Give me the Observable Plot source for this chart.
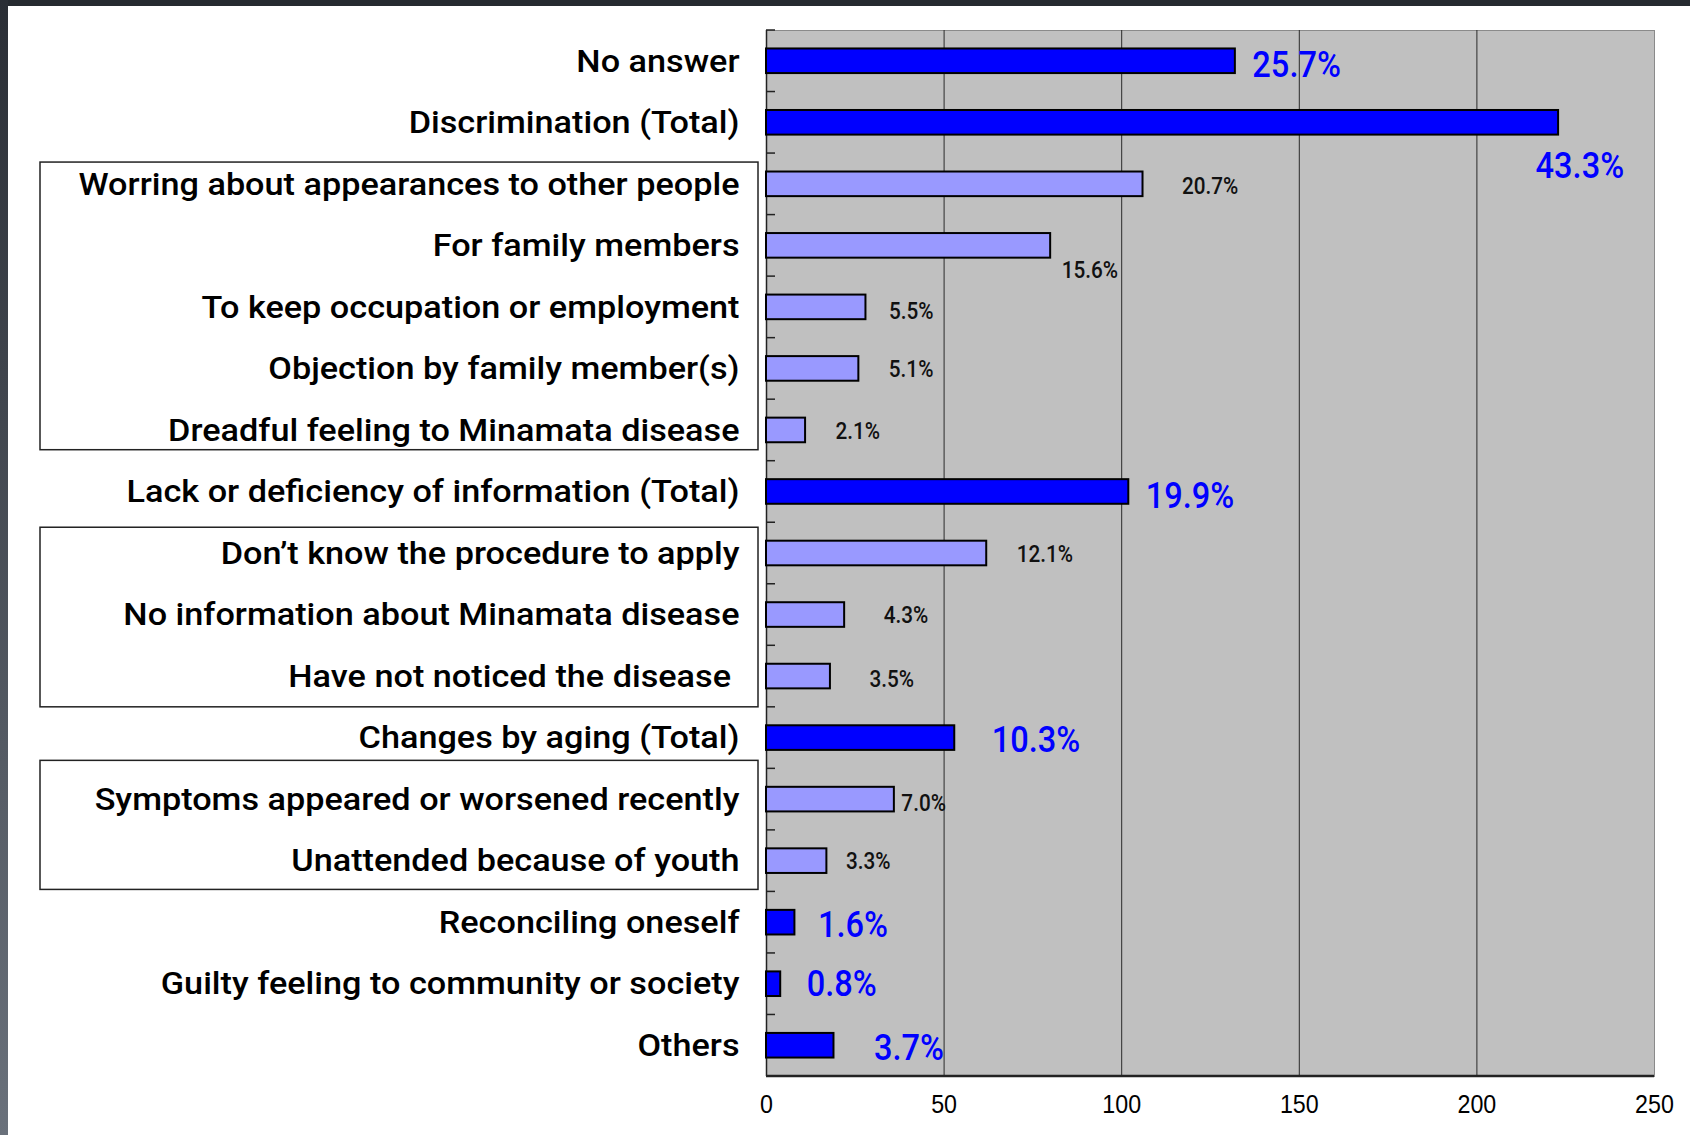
<!DOCTYPE html>
<html><head><meta charset="utf-8">
<script src="https://cdn.jsdelivr.net/npm/d3@7"></script>
<script src="https://cdn.jsdelivr.net/npm/@observablehq/plot@0.6"></script>
<style>
html,body{margin:0;padding:0;width:1690px;height:1135px;overflow:hidden;background:#262a30;}
#chrome-left{position:absolute;left:0;top:0;width:8px;height:1135px;background:linear-gradient(#2a2e35,#6a717b);}
#chart{position:absolute;left:8px;top:6px;width:1682px;height:1129px;background:#fff;}
</style></head><body>
<div id="chrome-left"></div>
<div id="chart"></div>
<script>
const categories = [
  "No answer",
  "Discrimination (Total)",
  "Worring about appearances to other people",
  "For family members",
  "To keep occupation or employment",
  "Objection by family member(s)",
  "Dreadful feeling to Minamata disease",
  "Lack or deficiency of information (Total)",
  "Don’t know the procedure to apply",
  "No information about Minamata disease",
  "Have not noticed the disease\u00A0",
  "Changes by aging (Total)",
  "Symptoms appeared or worsened recently",
  "Unattended because of youth",
  "Reconciling oneself",
  "Guilty feeling to community or society",
  "Others"
];
const counts = [132, 223, 106, 80, 28, 26, 11, 102, 62, 22, 18, 53, 36, 17, 8, 4, 19];
const percents = [25.7, 43.3, 20.7, 15.6, 5.5, 5.1, 2.1, 19.9, 12.1, 4.3, 3.5, 10.3, 7.0, 3.3, 1.6, 0.8, 3.7];
const levels = ["main","main","sub","sub","sub","sub","sub","main","sub","sub","sub","main","sub","sub","main","main","main"];
const xTicks = [0, 50, 100, 150, 200, 250];
const groupBoxes = [
  ["Worring about appearances to other people", "Dreadful feeling to Minamata disease"],
  ["Don’t know the procedure to apply", "Have not noticed the disease\u00A0"],
  ["Symptoms appeared or worsened recently", "Unattended because of youth"]
];

const data = categories.map((c, i) => ({category: c, count: counts[i], pct: percents[i], level: levels[i]}));

// ---- styling / layout (not data) ----
const boxInsets = [[9, -11], [5, 0], [-8, -2]];
const nudge = {
  "Discrimination (Total)": {dx: -23, dy: 43},
  "Worring about appearances to other people": {dx: 39, dy: 2},
  "For family members": {dx: 11, dy: 25},
  "Symptoms appeared or worsened recently": {dx: 7, dy: 4},
  "To keep occupation or employment": {dx: 23, dy: 4},
  "No information about Minamata disease": {dx: 39, dy: 1},
  "Have not noticed the disease\u00A0": {dx: 39, dy: 3},
  "Unattended because of youth": {dx: 19, dy: 0},
  "Others": {dx: 40, dy: 2},
  "Changes by aging (Total)": {dx: 37, dy: 2},
  "Guilty feeling to community or society": {dx: 26, dy: 0},
  "Reconciling oneself": {dx: 23, dy: 2}
};
const styleFor = {
  main: {fill: "#0000ff", fontSize: 37, dx: 17, dy: 4, squeeze: 0.88},
  sub: {fill: "#111111", fontSize: 23, dx: 30, dy: 1, squeeze: 0.9}
};
const axisFont = "'Liberation Sans', Arial, sans-serif";
const numFont = "Roboto, 'Liberation Sans', Arial, sans-serif";
const labelFont = "Roboto, 'Liberation Sans', Arial, sans-serif";
const fmt = d => d.pct.toFixed(1) + "%";

const textMarks = [];
const mkText = (rows, s, dx, dy) => Plot.text(rows, {
  x: "count", y: "category", text: fmt, textAnchor: "start",
  dx, dy, fill: s.fill, fontSize: s.fontSize, fontWeight: 500, fontFamily: numFont
});
for (const lv of ["main", "sub"]) {
  const s = styleFor[lv];
  textMarks.push(mkText(data.filter(d => d.level === lv && !nudge[d.category]), s, s.dx, s.dy));
}
for (const d of data.filter(d => nudge[d.category])) {
  const n = nudge[d.category];
  textMarks.push(mkText([d], styleFor[d.level], n.dx, n.dy));
}

const W = 1682, H = 1129;
const ml = 758, mt = 24, mb = 59, mr = 36;
const plot = Plot.plot({
  width: W, height: H,
  marginLeft: ml, marginTop: mt, marginBottom: mb, marginRight: mr,
  style: {background: "transparent", fontFamily: axisFont, color: "#000"},
  x: {domain: [0, 250], label: null},
  y: {domain: categories, paddingInner: 0.6, paddingOuter: 0.3, round: false, label: null},
  marks: [
    Plot.frame({fill: "#c0c0c0", stroke: "#8a8a8a"}),
    Plot.gridX({ticks: [50, 100, 150, 200], stroke: "#2a2a2a", strokeOpacity: 1, strokeWidth: 1}),
    Plot.ruleX([0], {stroke: "#222", strokeWidth: 1.5}),
    Plot.barX(data, {
      x: "count", y: "category",
      fill: d => d.level === "main" ? "#0000ff" : "#9999ff",
      stroke: "#000", strokeWidth: 2
    }),
    ...textMarks,
    Plot.axisY({tickSize: 0, tickPadding: 27, fontSize: 32, fontWeight: 500, fill: "#000", fontFamily: labelFont}),
    Plot.axisX({ticks: xTicks, tickSize: 0, tickPadding: 19, fontSize: 25, fill: "#000", fontFamily: axisFont, tickFormat: d => String(d)})
  ]
});
document.getElementById("chart").appendChild(plot);

const svg = d3.select(plot);

// condensed look, like the original gothic font
function squeeze(sel, factor) {
  sel.each(function () {
    const L = this.getComputedTextLength();
    if (L > 0) {
      this.setAttribute("textLength", (L * factor).toFixed(2));
      this.setAttribute("lengthAdjust", "spacingAndGlyphs");
    }
  });
}
const yLabels = svg.selectAll('g[aria-label="y-axis tick label"] text');
let refLen = 0;
yLabels.each(function () { if (this.textContent.startsWith("Worring")) refLen = this.getComputedTextLength(); });
if (refLen > 0) squeeze(yLabels, 661 / refLen);
svg.selectAll('g[aria-label="text"] text').each(function () {
  const big = parseFloat(getComputedStyle(this).fontSize) > 30;
  squeeze(d3.select(this), big ? styleFor.main.squeeze : styleFor.sub.squeeze);
});
squeeze(svg.selectAll('g[aria-label="x-axis tick label"] text'), 0.93);

// Excel-like annotations: band-boundary ticks, bottom axis line, group boxes
const ys = plot.scale("y");
const gap = (ys.step - ys.bandwidth) / 2;
const boundary = i => i < categories.length ? ys.apply(categories[i]) - gap : ys.apply(categories[categories.length - 1]) + ys.bandwidth + gap;
const g = svg.append("g");
for (let i = 0; i <= categories.length; i++) {
  g.append("line").attr("x1", ml).attr("x2", ml + 9)
    .attr("y1", boundary(i)).attr("y2", boundary(i))
    .attr("stroke", "#222").attr("stroke-width", 1.5);
}
g.append("line").attr("x1", ml).attr("x2", W - mr)
  .attr("y1", H - mb).attr("y2", H - mb)
  .attr("stroke", "#222").attr("stroke-width", 2.5);
groupBoxes.forEach(([a, b], k) => {
  const i0 = categories.indexOf(a), i1 = categories.indexOf(b);
  const y0 = boundary(i0) + boxInsets[k][0], y1 = boundary(i1 + 1) + boxInsets[k][1];
  g.append("rect").attr("x", 32).attr("y", y0).attr("width", 718).attr("height", y1 - y0)
    .attr("fill", "none").attr("stroke", "#222").attr("stroke-width", 1.5);
});
</script>
</body></html>
